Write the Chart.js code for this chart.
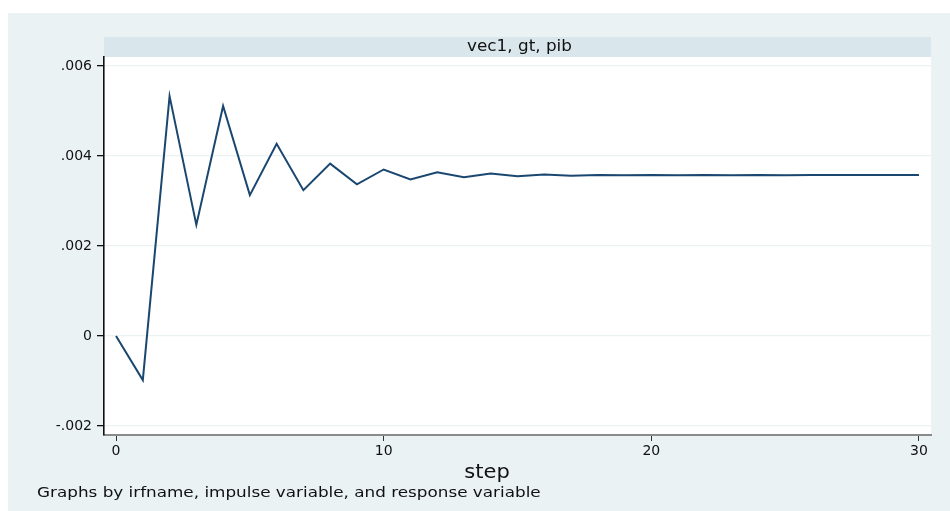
<!DOCTYPE html>
<html>
<head>
<meta charset="utf-8">
<script src="https://cdn.jsdelivr.net/npm/chart.js@4.4.1/dist/chart.umd.min.js"></script>
<style>
  html, body { margin: 0; padding: 0; background: #fff; overflow: hidden; }
  #wrap { width: 950px; height: 511px; }
</style>
</head>
<body>
<div id="wrap"><canvas id="c" width="950" height="511"></canvas></div>
<script>
// Impulse response: vec1, impulse gt, response pib
const steps = [0, 1, 2, 3, 4, 5, 6, 7, 8, 9, 10, 11, 12, 13, 14, 15,
               16, 17, 18, 19, 20, 21, 22, 23, 24, 25, 26, 27, 28, 29, 30];
const irf = [0, -0.00098, 0.00533, 0.00247, 0.00511, 0.00313, 0.00427, 0.00324,
             0.00383, 0.00337, 0.00370, 0.00348, 0.00364, 0.00353, 0.00361, 0.00355,
             0.00359, 0.00356, 0.00358, 0.00357, 0.00358, 0.00357, 0.00358, 0.00357,
             0.00358, 0.00357, 0.00358, 0.00358, 0.00358, 0.00358, 0.00358];
const yTicks = [-0.002, 0, 0.002, 0.004, 0.006];
const yTickLabels = ['-.002', '0', '.002', '.004', '.006'];
const xTicks = [0, 10, 20, 30];
const xTickLabels = ['0', '10', '20', '30'];
const panelTitle = 'vec1, gt, pib';
const xTitle = 'step';
const note = 'Graphs by irfname, impulse variable, and response variable';

const FONT = '"DejaVu Sans", "Liberation Sans", Arial, sans-serif';

// Text drawn with a slight horizontal widening
function wideText(ctx, text, x, y, sx) {
  ctx.save();
  ctx.translate(x, y);
  ctx.scale(sx, 1);
  ctx.fillText(text, 0, 0);
  ctx.restore();
}

// Backgrounds, panel strip and the free-standing texts
const frame = {
  id: 'frame',
  beforeDraw(chart) {
    const { ctx, chartArea: a } = chart;
    ctx.save();
    ctx.fillStyle = '#ffffff';
    ctx.fillRect(0, 0, chart.width, chart.height);
    ctx.fillStyle = '#EAF2F3';
    ctx.fillRect(8, 13, chart.width - 8, chart.height - 13);
    ctx.fillStyle = '#ffffff';
    ctx.fillRect(a.left, a.top, a.right - a.left, a.bottom - a.top);
    ctx.fillStyle = '#D9E6EB';
    ctx.fillRect(a.left, a.top - 20, a.right - a.left, 20);

    ctx.fillStyle = '#111111';
    ctx.textAlign = 'center';
    ctx.textBaseline = 'middle';
    ctx.font = '15px ' + FONT;
    wideText(ctx, panelTitle, (a.left + a.right) / 2 + 2, a.top - 10, 1.12);

    ctx.textBaseline = 'alphabetic';
    ctx.font = '20px ' + FONT;
    wideText(ctx, xTitle, 487, 478, 1.05);

    ctx.textAlign = 'left';
    ctx.font = '14px ' + FONT;
    wideText(ctx, note, 37, 497, 1.2);
    ctx.restore();
  }
};

new Chart(document.getElementById('c'), {
  type: 'line',
  data: {
    labels: steps,
    datasets: [{
      data: steps.map((s, i) => ({ x: s, y: irf[i] })),
      borderColor: '#1a476f',
      borderWidth: 2,
      pointRadius: 0,
      tension: 0,
      fill: false
    }]
  },
  options: {
    responsive: false,
    animation: false,
    devicePixelRatio: 1,
    layout: { padding: { left: 0, right: 19, top: 57, bottom: 0 } },
    plugins: { legend: { display: false }, tooltip: { enabled: false }, title: { display: false } },
    scales: {
      x: {
        type: 'linear',
        min: -0.45,
        max: 30.45,
        afterBuildTicks: s => { s.ticks = xTicks.map(v => ({ value: v })); },
        afterFit: s => { s.height = 76; },
        ticks: {
          callback: (v) => xTickLabels[xTicks.indexOf(v)],
          font: { family: FONT, size: 14 },
          color: '#111',
          padding: 2,
          maxRotation: 0,
          autoSkip: false
        },
        grid: { drawOnChartArea: false, drawTicks: true, tickLength: 6, tickColor: '#333', tickWidth: 1 },
        border: { display: true, color: '#8a8a8a', width: 2 }
      },
      y: {
        type: 'linear',
        min: -0.0022,
        max: 0.0062,
        afterBuildTicks: s => { s.ticks = yTicks.map(v => ({ value: v })); },
        afterFit: s => { s.width = 104; },
        ticks: {
          callback: (v) => yTickLabels[yTicks.indexOf(v)],
          font: { family: FONT, size: 14 },
          color: '#111',
          padding: 5
        },
        grid: { color: '#EAF2F3', lineWidth: 1.3, drawTicks: true, tickLength: 7, tickColor: '#111', tickWidth: 1.3 },
        border: { display: true, color: '#111', width: 1.6 }
      }
    }
  },
  plugins: [frame]
});
</script>
</body>
</html>
